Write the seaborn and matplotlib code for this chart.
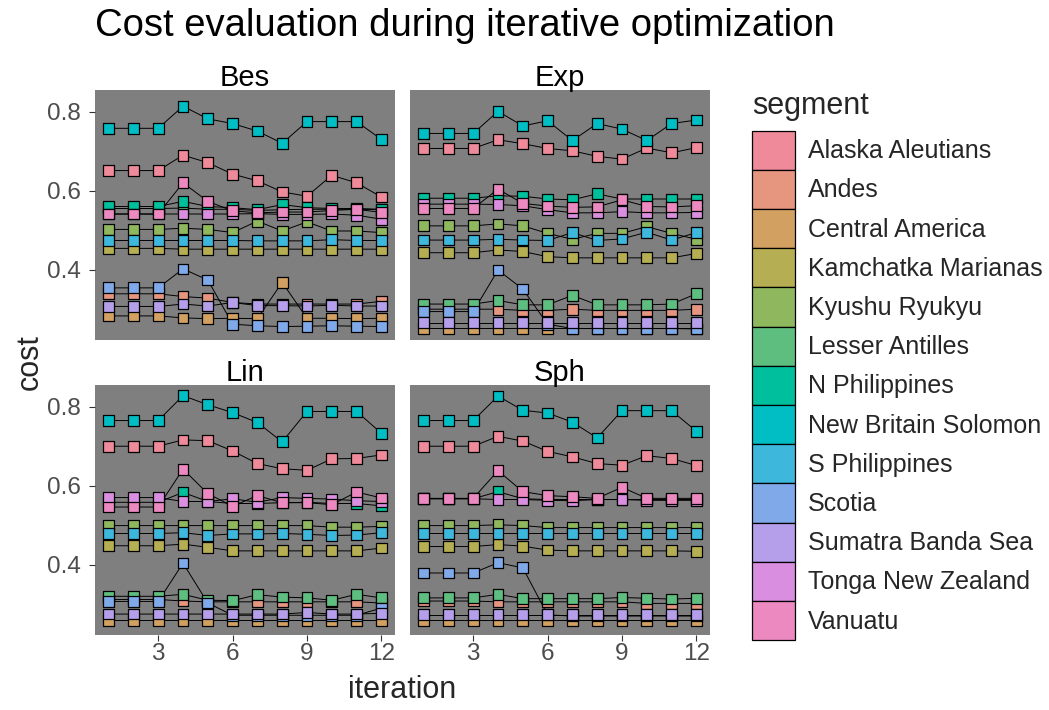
import numpy as np
import pandas as pd
import matplotlib
matplotlib.use("Agg")
import matplotlib.pyplot as plt
import seaborn as sns
from matplotlib.patches import Patch

segments = ["Alaska Aleutians", "Andes", "Central America", "Kamchatka Marianas",
            "Kyushu Ryukyu", "Lesser Antilles", "N Philippines", "New Britain Solomon",
            "S Philippines", "Scotia", "Sumatra Banda Sea", "Tonga New Zealand", "Vanuatu"]
iterations = list(range(1, 13))
methods = ["Bes", "Exp", "Lin", "Sph"]

colors = ["#EE8A9A", "#E6957F", "#D2A162", "#B5AE52", "#8FB75E", "#5EBE7F", "#00BF9D",
          "#00BEC4", "#3DB7DC", "#80A9EA", "#B59EEA", "#DA8EE0", "#EC89C0"]

bes_cost = [
    [0.651, 0.651, 0.651, 0.690, 0.671, 0.642, 0.625, 0.597, 0.586, 0.639, 0.620, 0.584],
    [0.339, 0.339, 0.339, 0.332, 0.328, 0.317, 0.313, 0.313, 0.313, 0.313, 0.313, 0.320],
    [0.283, 0.283, 0.283, 0.278, 0.276, 0.277, 0.276, 0.368, 0.277, 0.277, 0.276, 0.277],
    [0.454, 0.454, 0.454, 0.452, 0.452, 0.452, 0.452, 0.452, 0.452, 0.452, 0.452, 0.452],
    [0.502, 0.502, 0.502, 0.505, 0.502, 0.494, 0.523, 0.498, 0.521, 0.498, 0.498, 0.494],
    [0.555, 0.555, 0.555, 0.556, 0.553, 0.553, 0.550, 0.552, 0.553, 0.553, 0.553, 0.552],
    [0.560, 0.560, 0.560, 0.573, 0.560, 0.557, 0.552, 0.565, 0.557, 0.555, 0.555, 0.553],
    [0.758, 0.758, 0.758, 0.814, 0.782, 0.770, 0.751, 0.720, 0.775, 0.775, 0.775, 0.730],
    [0.474, 0.474, 0.474, 0.474, 0.474, 0.474, 0.473, 0.473, 0.473, 0.476, 0.474, 0.474],
    [0.354, 0.354, 0.354, 0.402, 0.374, 0.262, 0.258, 0.256, 0.257, 0.258, 0.257, 0.256],
    [0.307, 0.307, 0.307, 0.313, 0.308, 0.317, 0.309, 0.309, 0.308, 0.310, 0.308, 0.308],
    [0.541, 0.541, 0.541, 0.541, 0.541, 0.541, 0.542, 0.540, 0.540, 0.541, 0.538, 0.528],
    [0.541, 0.541, 0.541, 0.620, 0.573, 0.549, 0.544, 0.546, 0.546, 0.550, 0.553, 0.545],
]

exp_cost = [
    [0.707, 0.707, 0.707, 0.729, 0.719, 0.707, 0.701, 0.687, 0.680, 0.708, 0.696, 0.709],
    [0.300, 0.300, 0.300, 0.300, 0.297, 0.297, 0.300, 0.297, 0.297, 0.297, 0.297, 0.300],
    [0.252, 0.252, 0.252, 0.252, 0.252, 0.252, 0.252, 0.252, 0.252, 0.252, 0.252, 0.252],
    [0.443, 0.443, 0.443, 0.450, 0.446, 0.433, 0.430, 0.430, 0.430, 0.430, 0.430, 0.441],
    [0.511, 0.511, 0.511, 0.516, 0.511, 0.492, 0.477, 0.492, 0.492, 0.509, 0.492, 0.477],
    [0.313, 0.313, 0.313, 0.322, 0.311, 0.311, 0.335, 0.311, 0.311, 0.311, 0.313, 0.339],
    [0.581, 0.581, 0.581, 0.587, 0.586, 0.579, 0.577, 0.592, 0.579, 0.579, 0.579, 0.579],
    [0.745, 0.745, 0.745, 0.801, 0.764, 0.777, 0.727, 0.770, 0.756, 0.727, 0.770, 0.779],
    [0.475, 0.475, 0.475, 0.477, 0.475, 0.474, 0.494, 0.474, 0.478, 0.495, 0.475, 0.494],
    [0.294, 0.294, 0.294, 0.399, 0.351, 0.262, 0.251, 0.251, 0.251, 0.251, 0.251, 0.250],
    [0.266, 0.266, 0.266, 0.266, 0.266, 0.266, 0.266, 0.266, 0.266, 0.266, 0.266, 0.266],
    [0.566, 0.566, 0.566, 0.565, 0.562, 0.552, 0.544, 0.544, 0.547, 0.544, 0.544, 0.545],
    [0.555, 0.555, 0.555, 0.604, 0.568, 0.561, 0.558, 0.559, 0.577, 0.560, 0.559, 0.562],
]

lin_cost = [
    [0.700, 0.700, 0.700, 0.716, 0.714, 0.688, 0.656, 0.643, 0.639, 0.668, 0.669, 0.678],
    [0.312, 0.312, 0.312, 0.308, 0.306, 0.306, 0.306, 0.306, 0.306, 0.306, 0.306, 0.303],
    [0.259, 0.259, 0.259, 0.259, 0.259, 0.259, 0.259, 0.259, 0.259, 0.259, 0.259, 0.259],
    [0.448, 0.448, 0.448, 0.452, 0.444, 0.435, 0.435, 0.435, 0.435, 0.435, 0.435, 0.442],
    [0.499, 0.499, 0.499, 0.499, 0.499, 0.499, 0.499, 0.499, 0.499, 0.495, 0.495, 0.497],
    [0.320, 0.320, 0.320, 0.325, 0.310, 0.309, 0.324, 0.318, 0.316, 0.310, 0.325, 0.316],
    [0.558, 0.558, 0.558, 0.583, 0.560, 0.555, 0.555, 0.557, 0.558, 0.555, 0.555, 0.549],
    [0.765, 0.765, 0.765, 0.828, 0.805, 0.785, 0.760, 0.711, 0.788, 0.788, 0.788, 0.733],
    [0.479, 0.479, 0.479, 0.481, 0.474, 0.478, 0.478, 0.479, 0.477, 0.474, 0.475, 0.481],
    [0.307, 0.307, 0.307, 0.404, 0.303, 0.272, 0.272, 0.272, 0.272, 0.272, 0.272, 0.290],
    [0.275, 0.275, 0.275, 0.275, 0.275, 0.275, 0.275, 0.275, 0.279, 0.275, 0.275, 0.277],
    [0.570, 0.570, 0.570, 0.560, 0.560, 0.567, 0.558, 0.570, 0.568, 0.566, 0.562, 0.560],
    [0.546, 0.546, 0.546, 0.642, 0.580, 0.548, 0.575, 0.557, 0.557, 0.552, 0.584, 0.569],
]

sph_cost = [
    [0.700, 0.700, 0.700, 0.725, 0.713, 0.687, 0.673, 0.656, 0.652, 0.676, 0.669, 0.651],
    [0.308, 0.308, 0.308, 0.306, 0.306, 0.306, 0.306, 0.306, 0.306, 0.302, 0.302, 0.302],
    [0.259, 0.259, 0.259, 0.259, 0.259, 0.259, 0.259, 0.259, 0.259, 0.259, 0.259, 0.259],
    [0.446, 0.446, 0.446, 0.451, 0.447, 0.437, 0.435, 0.435, 0.435, 0.435, 0.435, 0.434],
    [0.499, 0.499, 0.499, 0.501, 0.499, 0.494, 0.494, 0.494, 0.494, 0.494, 0.494, 0.494],
    [0.316, 0.316, 0.316, 0.325, 0.314, 0.314, 0.314, 0.314, 0.317, 0.315, 0.313, 0.315],
    [0.567, 0.567, 0.567, 0.585, 0.567, 0.565, 0.565, 0.565, 0.565, 0.565, 0.565, 0.565],
    [0.765, 0.765, 0.765, 0.827, 0.791, 0.784, 0.761, 0.721, 0.790, 0.790, 0.790, 0.738],
    [0.479, 0.479, 0.479, 0.479, 0.479, 0.479, 0.479, 0.479, 0.479, 0.479, 0.479, 0.479],
    [0.379, 0.379, 0.379, 0.405, 0.392, 0.273, 0.270, 0.270, 0.270, 0.270, 0.270, 0.270],
    [0.273, 0.273, 0.273, 0.273, 0.273, 0.273, 0.273, 0.273, 0.273, 0.273, 0.273, 0.273],
    [0.567, 0.567, 0.567, 0.565, 0.565, 0.563, 0.562, 0.565, 0.565, 0.563, 0.563, 0.563],
    [0.568, 0.568, 0.568, 0.638, 0.585, 0.575, 0.572, 0.568, 0.596, 0.568, 0.568, 0.568],
]

x_ticks = [3, 6, 9, 12]
y_ticks = [0.4, 0.6, 0.8]
y_ticklabels = ["0.4", "0.6", "0.8"]

rows = []
for m, table in zip(methods, [bes_cost, exp_cost, lin_cost, sph_cost]):
    for seg, vals in zip(segments, table):
        for it, v in zip(iterations, vals):
            rows.append((m, seg, it, v))
df = pd.DataFrame(rows, columns=["method", "segment", "iteration", "cost"])
df["segment"] = pd.Categorical(df["segment"], categories=segments, ordered=True)
pal = dict(zip(segments, colors))

sns.set_style("white")
plt.rcParams["font.family"] = ["Liberation Sans", "DejaVu Sans"]

W, H = 1049, 710
fig = plt.figure(figsize=(W / 100, H / 100), dpi=100)
fig.patch.set_facecolor("white")

pos = {"Bes": (95, 90), "Exp": (410, 90), "Lin": (95, 385), "Sph": (410, 385)}
pw, ph = 300, 250

for m in methods:
    x0, y0 = pos[m]
    ax = fig.add_axes([x0 / W, 1 - (y0 + ph) / H, pw / W, ph / H])
    ax.set_facecolor("#7F7F7F")
    sub = df[df["method"] == m].sort_values(["segment", "iteration"])
    sns.lineplot(data=sub, x="iteration", y="cost", units="segment", estimator=None,
                 color="black", linewidth=0.7, ax=ax, legend=False, zorder=2)
    sns.scatterplot(data=sub, x="iteration", y="cost", hue="segment", palette=pal,
                    marker="s", s=60, edgecolor="black", linewidth=0.9, ax=ax,
                    legend=False, zorder=3)
    ax.set_xlim(0.45, 12.55)
    ax.set_ylim(0.222, 0.855)
    ax.set_xlabel("")
    ax.set_ylabel("")
    for sp in ax.spines.values():
        sp.set_visible(False)
    ax.set_xticks(x_ticks)
    ax.set_yticks(y_ticks)
    ax.set_yticklabels(y_ticklabels)
    left = m in ("Bes", "Lin")
    bottom = m in ("Lin", "Sph")
    ax.tick_params(axis="x", bottom=bottom, labelbottom=bottom, length=4, width=0.8,
                   color="#333333", labelsize=17.5, labelcolor="#4D4D4D", pad=2)
    ax.tick_params(axis="y", left=left, labelleft=left, length=4, width=0.8,
                   color="#333333", labelsize=17.5, labelcolor="#4D4D4D", pad=6)
    ax.grid(False)
    fig.text((x0 + pw / 2) / W, 1 - (y0 - 4) / H, m, ha="center", va="baseline",
             fontsize=21, color="black")

fig.text(95 / W, 1 - 8 / H, "Cost evaluation during iterative optimization",
         ha="left", va="top", fontsize=27.5, color="black")
fig.text(402 / W, 1 - 690 / H, "iteration", ha="center", va="center", fontsize=22)
fig.text(30 / W, 1 - 362 / H, "cost", ha="center", va="center", fontsize=22, rotation=90)

handles = [Patch(facecolor=c, edgecolor="black", linewidth=0.9) for c in colors]
leg = fig.legend(handles, segments, loc="upper left",
                 bbox_to_anchor=(752 / W, 1 - 91 / H), frameon=False,
                 fontsize=18, title="segment", title_fontsize=22,
                 handlelength=1.72, handleheight=2.035, handletextpad=0.5,
                 labelspacing=0.0, borderpad=0.0, borderaxespad=0.0,
                 alignment="left")
leg._legend_box.sep = 7

fig.savefig("out.png", dpi=100, facecolor="white")
